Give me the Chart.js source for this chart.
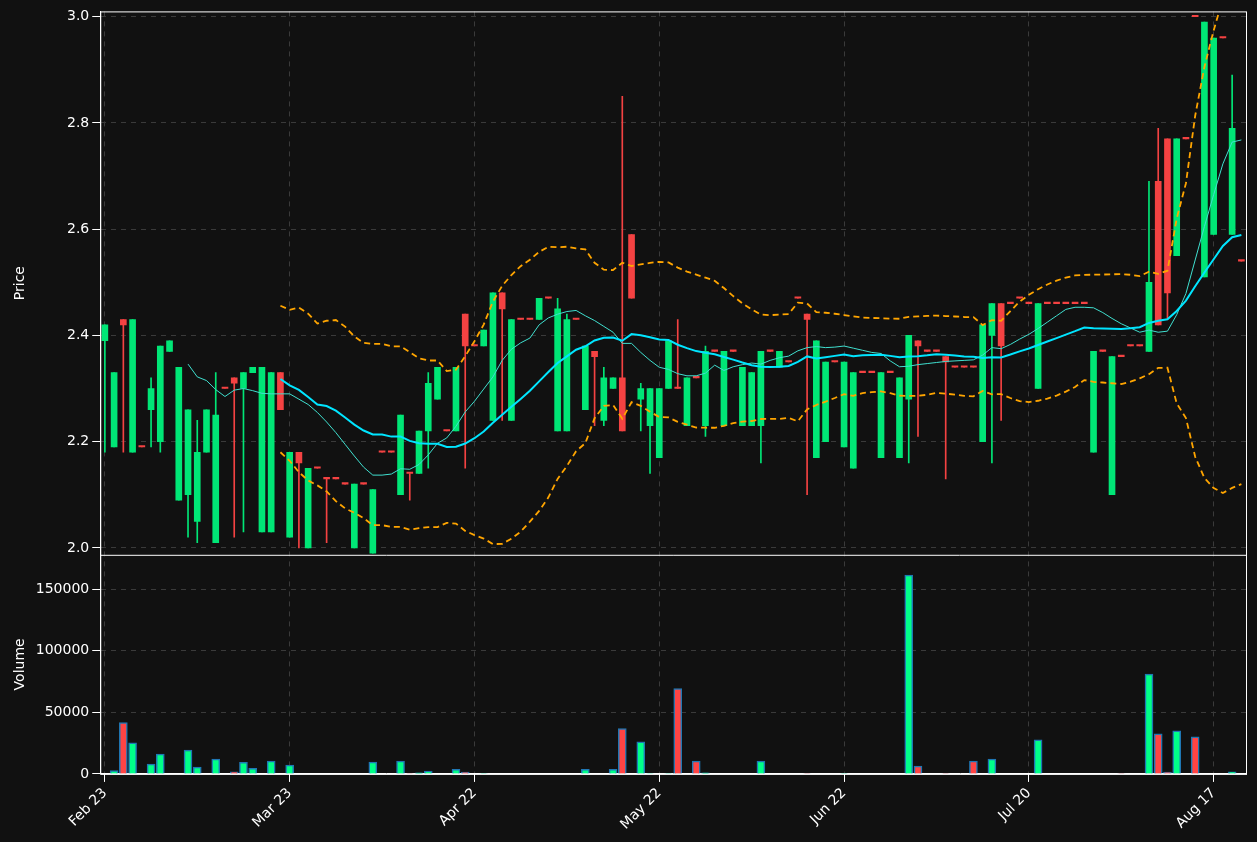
<!DOCTYPE html>
<html>
<head>
<meta charset="utf-8">
<script src="https://cdn.jsdelivr.net/npm/chart.js@4"></script>
<style>
  html, body { margin: 0; background: #111111; }
  #wrap { width: 1257px; height: 842px; }
</style>
</head>
<body>
<div id="wrap"><canvas id="c"></canvas></div>
<script>
// OHLC, one row per trading day
const opens  = [2.39,2.19,2.43,2.18,2.19,2.26,2.20,2.37,2.09,2.10,2.05,2.18,2.01,2.30,2.32,2.30,2.33,2.03,2.03,2.33,
                2.02,2.18,2.00,2.15,2.13,2.13,2.12,2.00,2.12,1.99,2.18,2.18,2.10,2.14,2.14,2.22,2.28,2.22,2.22,2.44,
                2.38,2.38,2.24,2.48,2.24,2.43,2.43,2.43,2.47,2.22,2.22,2.43,2.26,2.37,2.24,2.30,2.32,2.59,2.28,2.23,
                2.17,2.30,2.30,2.23,2.32,2.23,2.37,2.23,2.37,2.23,2.23,2.23,2.37,2.34,2.35,2.47,2.44,2.17,2.20,2.35,
                2.19,2.15,2.33,2.33,2.17,2.33,2.17,2.28,2.39,2.37,2.37,2.36,2.34,2.34,2.34,2.20,2.40,2.46,2.46,2.47,
                2.46,2.30,2.46,2.46,2.46,2.46,2.46,2.18,2.37,2.10,2.36,2.38,2.38,2.37,2.69,2.77,2.55,2.77,3.00,2.51,
                2.59,2.96,2.59,2.54];
const highs  = [2.42,2.33,2.43,2.43,2.19,2.32,2.38,2.39,2.34,2.26,2.24,2.26,2.33,2.30,2.32,2.33,2.34,2.34,2.33,2.33,
                2.18,2.18,2.15,2.15,2.13,2.13,2.12,2.12,2.12,2.11,2.18,2.18,2.25,2.14,2.22,2.33,2.34,2.22,2.34,2.44,
                2.38,2.41,2.48,2.48,2.43,2.43,2.43,2.47,2.47,2.47,2.44,2.43,2.38,2.37,2.34,2.32,2.85,2.59,2.31,2.30,
                2.30,2.39,2.43,2.32,2.32,2.38,2.37,2.37,2.37,2.34,2.33,2.37,2.37,2.37,2.35,2.47,2.44,2.39,2.35,2.35,
                2.35,2.33,2.33,2.33,2.33,2.33,2.32,2.40,2.39,2.37,2.37,2.36,2.34,2.34,2.34,2.42,2.46,2.46,2.46,2.47,
                2.46,2.46,2.46,2.46,2.46,2.46,2.46,2.37,2.37,2.36,2.36,2.38,2.38,2.69,2.79,2.77,2.77,2.77,3.00,2.99,
                2.96,2.96,2.89,2.54];
const lows   = [2.18,2.19,2.18,2.18,2.19,2.19,2.18,2.37,2.09,2.02,2.01,2.18,2.01,2.30,2.02,2.03,2.33,2.03,2.03,2.26,
                2.02,2.00,2.00,2.15,2.01,2.13,2.12,2.00,2.12,1.99,2.18,2.18,2.10,2.09,2.14,2.15,2.28,2.22,2.22,2.15,
                2.38,2.38,2.24,2.24,2.24,2.43,2.43,2.43,2.47,2.22,2.22,2.43,2.26,2.23,2.23,2.30,2.22,2.47,2.22,2.14,
                2.17,2.30,2.30,2.23,2.32,2.21,2.37,2.23,2.37,2.23,2.23,2.16,2.37,2.34,2.35,2.47,2.10,2.17,2.20,2.35,
                2.19,2.15,2.33,2.33,2.17,2.33,2.17,2.16,2.21,2.37,2.37,2.13,2.34,2.34,2.34,2.20,2.16,2.24,2.46,2.47,
                2.46,2.30,2.46,2.46,2.46,2.46,2.46,2.18,2.37,2.10,2.36,2.38,2.38,2.37,2.42,2.43,2.55,2.77,3.00,2.51,
                2.59,2.96,2.59,2.54];
const closes = [2.42,2.33,2.42,2.43,2.19,2.30,2.38,2.39,2.34,2.26,2.18,2.26,2.25,2.30,2.31,2.33,2.34,2.34,2.33,2.26,
                2.18,2.16,2.15,2.15,2.13,2.13,2.12,2.12,2.12,2.11,2.18,2.18,2.25,2.14,2.22,2.31,2.34,2.22,2.34,2.38,
                2.38,2.41,2.48,2.45,2.43,2.43,2.43,2.47,2.47,2.45,2.43,2.43,2.38,2.36,2.32,2.32,2.22,2.47,2.30,2.30,
                2.30,2.39,2.30,2.32,2.32,2.37,2.37,2.37,2.37,2.34,2.33,2.37,2.37,2.37,2.35,2.47,2.43,2.39,2.35,2.35,
                2.35,2.33,2.33,2.33,2.33,2.33,2.32,2.40,2.38,2.37,2.37,2.35,2.34,2.34,2.34,2.42,2.46,2.38,2.46,2.47,
                2.46,2.46,2.46,2.46,2.46,2.46,2.46,2.37,2.37,2.36,2.36,2.38,2.38,2.50,2.42,2.48,2.77,2.77,3.00,2.99,
                2.96,2.96,2.79,2.54];
const volumes = [0,2700,41600,25200,0,8000,16100,0,0,19400,5500,0,12000,0,1600,9500,4600,0,10400,0,
                 7100,0,0,0,0,0,0,0,0,9600,0,0,10400,300,800,2200,0,0,3800,1500,
                 0,300,0,0,0,0,0,0,0,0,0,0,3800,0,0,3800,36900,0,26000,300,
                 0,300,69400,0,10400,800,0,0,0,0,0,10400,0,0,0,0,300,0,0,0,
                 300,0,0,0,0,0,0,161500,6300,0,0,300,0,0,10400,0,12000,0,0,0,
                 0,27600,0,0,0,0,0,0,0,0,300,0,0,81200,32500,1500,35000,0,30100,0,
                 0,0,1600,0];
const tickIndex  = [0, 20, 40, 60, 80, 100, 120];
const tickLabels = ['Feb 23', 'Mar 23', 'Apr 22', 'May 22', 'Jun 22', 'Jul 20', 'Aug 17'];
const priceTicks  = [2.0, 2.2, 2.4, 2.6, 2.8, 3.0];
const volumeTicks = [0, 50000, 100000, 150000];

const labels = closes.map((_, i) => i);
const UP = '#00e676', DOWN = '#f44242';
const isUp = closes.map((c, i) => c > opens[i]);

function rolling(n, fn) {
    return closes.map((_, i) => i < n - 1 ? null : fn(closes.slice(i - n + 1, i + 1)));
}
const mean = a => a.reduce((s, v) => s + v, 0) / a.length;
const std = a => { const m = mean(a); return Math.sqrt(a.reduce((s, v) => s + (v - m) ** 2, 0) / a.length); };
const ma10 = rolling(10, mean);
const ma20 = rolling(20, mean);
const upper = rolling(20, a => mean(a) + 2 * std(a));
const lower = rolling(20, a => mean(a) - 2 * std(a));

const frame = {
    id: 'frame',
    afterDraw(chart) {
        const { ctx, chartArea } = chart;
        const yb = chart.scales.y.bottom;
        ctx.save();
        ctx.strokeStyle = '#ffffff';
        ctx.lineWidth = 1;
        ctx.strokeRect(chartArea.left + 0.5, chartArea.top + 0.5, chartArea.width, chartArea.height);
        ctx.beginPath();
        ctx.moveTo(chartArea.left, yb + 0.5);
        ctx.lineTo(chartArea.right, yb + 0.5);
        ctx.stroke();
        ctx.restore();
    }
};

Chart.defaults.font.family = 'DejaVu Sans';
Chart.defaults.font.size = 14;
Chart.defaults.color = '#ffffff';

const line = (data, color, width, dash, order) => ({
    type: 'line', data, yAxisID: 'y', borderColor: color, borderWidth: width,
    borderDash: dash, pointRadius: 0, fill: false, tension: 0, order
});
const fixedTicks = values => axis => { axis.ticks = values.map(v => ({ value: v })); };

new Chart(document.getElementById('c'), {
    data: {
        labels,
        datasets: [
            line(ma10, '#40e0d0', 1, [], 1),
            line(ma20, '#00e5ff', 2, [], 0),
            line(upper, '#ffa500', 1.8, [6, 4], 2),
            line(lower, '#ffa500', 1.8, [6, 4], 2),
            {
                type: 'bar', yAxisID: 'y', grouped: false, order: 4,
                data: lows.map((l, i) => [l, highs[i]]),
                backgroundColor: isUp.map(u => u ? UP : DOWN),
                barThickness: 1
            },
            {
                type: 'bar', yAxisID: 'y', grouped: false, order: 3,
                data: opens.map((o, i) => [o, closes[i]]),
                backgroundColor: isUp.map(u => u ? UP : DOWN),
                barThickness: 6, minBarLength: 1.5
            },
            {
                type: 'bar', yAxisID: 'yv', grouped: false, order: 5,
                data: volumes,
                backgroundColor: isUp.map(u => u ? '#00ff88' : '#ff4444'),
                borderColor: '#1f77b4', borderWidth: 1.5,
                barThickness: 8
            }
        ]
    },
    options: {
        responsive: true,
        maintainAspectRatio: false,
        animation: false,
        layout: { padding: { top: 10, right: 11, left: 8, bottom: 6 } },
        plugins: { legend: { display: false }, tooltip: { enabled: false } },
        scales: {
            x: {
                offset: true,
                afterBuildTicks: fixedTicks(tickIndex),
                grid: { color: '#3a3a3a', offset: false, tickColor: '#ffffff' },
                border: { color: '#ffffff', dash: [5, 5] },
                ticks: {
                    autoSkip: false, maxRotation: 45, minRotation: 45, color: '#ffffff',
                    callback: (v) => tickLabels[tickIndex.indexOf(v)]
                }
            },
            yv: {
                type: 'linear', position: 'left', stack: 'panels', stackWeight: 1,
                min: 0, max: 178000,
                afterBuildTicks: fixedTicks(volumeTicks),
                title: { display: true, text: 'Volume', color: '#ffffff', font: { size: 14 } },
                grid: { color: '#3a3a3a', tickColor: '#ffffff' },
                border: { color: '#ffffff', dash: [5, 5] },
                ticks: { callback: v => String(v) }
            },
            y: {
                type: 'linear', position: 'left', stack: 'panels', stackWeight: 2.48,
                min: 1.987, max: 3.01,
                afterBuildTicks: fixedTicks(priceTicks),
                title: { display: true, text: 'Price', color: '#ffffff', font: { size: 14 } },
                grid: { color: '#3a3a3a', tickColor: '#ffffff' },
                border: { color: '#ffffff', dash: [5, 5] },
                ticks: { callback: v => v.toFixed(1) }
            }
        }
    },
    plugins: [frame]
});
</script>
</body>
</html>
